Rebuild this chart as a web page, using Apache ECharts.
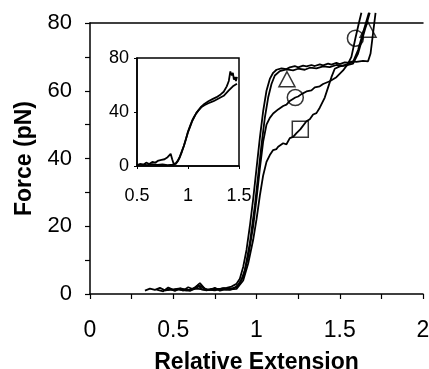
<!DOCTYPE html>
<html><head><meta charset="utf-8">
<script src="https://cdn.jsdelivr.net/npm/echarts@6/dist/echarts.min.js"></script>
<style>html,body{margin:0;padding:0;background:#fff}#c{width:429px;height:369px}</style>
</head><body><div id="c"></div>
<script>
// ---- main plot data ----
const triX = [0.33,0.36,0.39,0.42,0.45,0.48,0.51,0.54,0.57,0.60,0.63,0.65,0.67,0.70,0.73,0.76,0.79,0.82,0.85,0.88,0.90,0.92,0.94,0.96,0.98,1.00,1.02,1.04,1.06,1.08,1.10,1.12,1.15,1.18,1.20,1.23,1.25,1.28,1.30,1.33,1.35,1.38,1.40,1.43,1.45,1.48,1.50,1.53,1.55,1.58,1.60,1.64,1.67,1.685,1.70,1.715];
const triY = [1.0,1.6,1.2,1.8,1.1,1.5,0.9,1.7,1.3,1.2,1.9,2.6,1.4,1.1,1.5,1.3,1.6,1.8,2.2,3.0,4.5,8,13,20,28,37,46,54,60,63.5,65.3,66.2,66.6,66.4,66.9,67.3,66.9,67.4,67.2,67.6,67.3,67.8,67.5,68.0,67.7,68.2,67.9,68.4,68.3,68.7,68.5,68.8,68.7,71,77,83];
const dX = [0.40,0.44,0.47,0.50,0.53,0.56,0.59,0.62,0.66,0.69,0.72,0.75,0.78,0.81,0.84,0.86,0.90,0.93,0.96,0.99,1.01,1.03,1.05,1.07,1.09,1.11,1.14,1.18,1.22,1.25,1.29,1.32,1.36,1.40,1.44,1.48,1.52,1.55,1.58,1.61,1.645,1.675];
const dY = [1.3,0.8,1.9,1.2,1.6,1.0,2.0,1.4,3.2,1.5,1.2,1.8,1.0,1.4,1.2,1.5,3.0,7,15,26,35,44,52,58,62,64.5,65.8,66.3,66.0,66.5,66.2,66.8,66.6,67.2,67.0,67.6,67.4,67.9,68.5,72,78,83];
const circX = [0.50,0.55,0.60,0.66,0.70,0.75,0.80,0.84,0.88,0.92,0.95,0.98,1.00,1.02,1.04,1.06,1.08,1.10,1.13,1.16,1.18,1.20,1.233,1.25,1.27,1.30,1.33,1.35,1.38,1.40,1.44,1.48,1.52,1.55,1.57,1.594,1.615,1.63];
const circY = [1.2,1.5,0.9,2.4,1.3,1.1,1.7,1.5,2.0,5,11,20,28,37,45,50,52,53.3,54.5,55.5,55.9,57,58,58.3,59,59.8,60.1,61,61.3,62,62.8,64,66,68,70,75.5,80,83];
const sqX = [0.45,0.52,0.58,0.64,0.70,0.76,0.82,0.88,0.92,0.95,0.98,1.00,1.02,1.04,1.06,1.08,1.10,1.12,1.13,1.16,1.18,1.20,1.22,1.24,1.263,1.30,1.32,1.34,1.36,1.38,1.41,1.43,1.45,1.47,1.50,1.55,1.58,1.61,1.645,1.68];
const sqY = [1.1,1.4,1.0,1.6,1.2,1.5,1.3,1.5,4,9,16,22,29,35,39,41,42.5,42.8,43.5,44.5,44.2,46,46.4,47.5,48.6,51,51.6,53,53.4,55,58,61,64,66.5,67.2,67.6,68,71,77,83];
// marker positions
const circleMarks = [[1.233, 58.0], [1.594, 75.5]];
const triangleMarks = [[1.183, 63.4], [1.67, 78.0]];
const squareMarks = [[1.263, 48.6]];
// ---- inset data ----
const inAX = [0.50,0.53,0.56,0.59,0.62,0.65,0.68,0.71,0.74,0.77,0.80,0.83,0.845,0.86,0.88,0.90,0.92,0.94,0.96,0.98,1.00,1.02,1.04,1.06,1.08,1.10,1.13,1.16,1.20,1.24,1.28,1.32,1.35,1.38,1.40,1.415,1.43,1.44,1.45,1.46,1.47,1.48];
const inAY = [0.5,1.5,0.8,2.5,1.5,3.0,2.5,4.0,4.5,5.0,6.5,9.0,5.0,1.5,2.0,4.0,7,11,15,20,25,29,33,36,39,41,44,46,48,49.5,51,53,55,59,63,70,67,69,64,66,63,66];
const inBX = [0.50,0.55,0.60,0.65,0.70,0.75,0.80,0.85,0.88,0.90,0.92,0.94,0.96,0.98,1.00,1.02,1.04,1.06,1.08,1.10,1.13,1.16,1.20,1.25,1.30,1.35,1.40,1.44,1.48];
const inBY = [0.8,1.2,0.6,1.4,0.9,1.1,0.7,1.0,1.5,3.5,6.5,10.5,15,20,25.5,29.5,33.5,36.5,39,41,43.5,45,46.5,48,50,52,56,59,61];
const mainXTicks = ['0','0.5','1','1.5','2'];
const mainYTicks = ['0','20','40','60','80'];

const zip = (xs, ys) => xs.map((x, i) => [x, ys[i]]);
const FONT = 'Liberation Sans, Arial, Helvetica, sans-serif';
const lineS = (name, xs, ys, xi, yi, clip) => ({
  name, type: 'line', xAxisIndex: xi, yAxisIndex: yi, data: zip(xs, ys),
  showSymbol: false, clip: clip, lineStyle: {color: '#000', width: 1.8}, z: 3
});
const markS = (data, symbol, size) => ({
  type: 'scatter', xAxisIndex: 0, yAxisIndex: 0, data, symbol, symbolSize: size, clip: false,
  itemStyle: {color: 'rgba(0,0,0,0)', borderColor: '#000', borderWidth: 1.5}, z: 4
});

const chart = echarts.init(document.getElementById('c'), null, {renderer: 'canvas'});
chart.setOption({
  animation: false,
  backgroundColor: '#fff',
  textStyle: {fontFamily: FONT},
  grid: [
    {left: 90, top: 23, width: 333, height: 271, outerBoundsMode: 'none', containLabel: false},
    {left: 137, top: 58, width: 102, height: 108, outerBoundsMode: 'none', containLabel: false,
     show: true, borderColor: '#000', borderWidth: 1.5, backgroundColor: '#fff', z: 5}
  ],
  xAxis: [
    {gridIndex: 0, type: 'value', min: 0, max: 2, interval: 0.25,
     axisLine: {lineStyle: {color: '#000', width: 1.5}},
     axisTick: {length: 5, lineStyle: {color: '#000', width: 1.2}},
     axisLabel: {color: '#000', fontSize: 23, fontFamily: FONT, margin: 25,
       formatter: v => { const s = String(Math.round(v * 100) / 100); return mainXTicks.includes(s) ? s : ''; }},
     splitLine: {show: false},
     name: 'Relative Extension', nameLocation: 'middle', nameGap: 57,
     nameTextStyle: {color: '#000', fontSize: 23, fontWeight: 'bold', fontFamily: FONT}},
    {gridIndex: 0, type: 'value', min: 0, max: 2, position: 'top',
     axisLine: {show: true, onZero: false, lineStyle: {color: '#000', width: 1.5}},
     axisTick: {show: false}, axisLabel: {show: false}, splitLine: {show: false}},
    {gridIndex: 1, type: 'value', min: 0.5, max: 1.5, interval: 0.5,
     axisLine: {lineStyle: {color: '#000', width: 1.5}},
     axisTick: {length: 3, lineStyle: {color: '#000'}},
     axisLabel: {color: '#000', fontSize: 18, fontFamily: FONT, margin: 21},
     splitLine: {show: false}, z: 6}
  ],
  yAxis: [
    {gridIndex: 0, type: 'value', min: 0, max: 80, interval: 10,
     axisLine: {show: true, lineStyle: {color: '#000', width: 1.5}},
     axisTick: {show: true, length: 5, lineStyle: {color: '#000', width: 1.2}},
     axisLabel: {color: '#000', fontSize: 22, fontFamily: FONT, margin: 18,
       formatter: v => { const s = String(v); return mainYTicks.includes(s) ? s : ''; }},
     splitLine: {show: false},
     name: 'Force (pN)', nameLocation: 'middle', nameGap: 53,
     nameTextStyle: {color: '#000', fontSize: 23, fontWeight: 'bold', fontFamily: FONT}},
    {gridIndex: 1, type: 'value', min: 0, max: 80, interval: 40,
     axisLine: {show: true, lineStyle: {color: '#000', width: 1.5}},
     axisTick: {show: true, length: 3, lineStyle: {color: '#000'}},
     axisLabel: {color: '#000', fontSize: 18, fontFamily: FONT, margin: 8},
     splitLine: {show: false}, z: 6}
  ],
  series: [
    lineS('tri', triX, triY, 0, 0, false),
    lineS('d', dX, dY, 0, 0, false),
    lineS('circ', circX, circY, 0, 0, false),
    lineS('sq', sqX, sqY, 0, 0, false),
    markS(circleMarks, 'circle', 16),
    markS(triangleMarks, 'triangle', [16, 15]),
    markS(squareMarks, 'rect', 16),
    Object.assign(lineS('inA', inAX, inAY, 2, 1, true), {z: 7}),
    Object.assign(lineS('inB', inBX, inBY, 2, 1, true), {z: 7})
  ]
});
</script></body></html>
